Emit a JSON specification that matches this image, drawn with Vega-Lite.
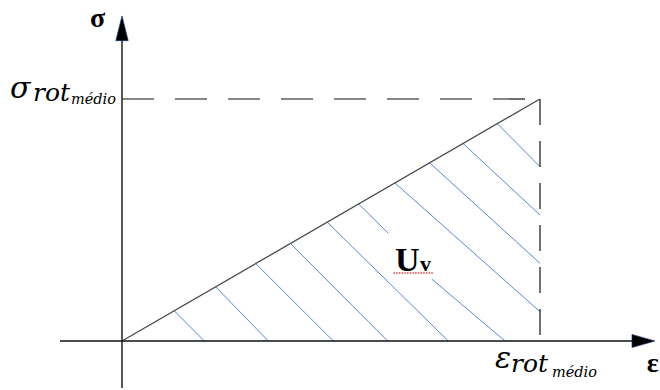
{
  "$schema": "https://vega.github.io/schema/vega-lite/v6.json",
  "width": 660,
  "height": 390,
  "autosize": {"type": "fit", "contains": "padding"},
  "padding": 0,
  "background": "white",
  "config": {"view": {"stroke": null}},
  "datasets": {
    "axes": [
      {"x": -0.1483, "y": 0, "x2": 1.2392, "y2": 0},
      {"x": 0, "y": -0.1942, "x2": 0, "y2": 1.2851}
    ],
    "arrow_right": [{"x": 1.2476, "y": 0}],
    "arrow_up": [{"x": 0, "y": 1.2921}],
    "diagonal": [{"x": 0, "y": 0, "x2": 1, "y2": 1}],
    "dash_h": [{"x": 0, "y": 1, "x2": 1, "y2": 1}],
    "dash_v": [{"x": 1, "y": 1, "x2": 1, "y2": 0}],
    "hatch": [
      {"x": 0.125, "y": 0.125, "x2": 0.1969, "y2": 0},
      {"x": 0.224, "y": 0.224, "x2": 0.35, "y2": 0},
      {"x": 0.32, "y": 0.32, "x2": 0.5055, "y2": 0},
      {"x": 0.403, "y": 0.403, "x2": 0.6356, "y2": 0},
      {"x": 0.491, "y": 0.491, "x2": 0.7806, "y2": 0},
      {"x": 0.566, "y": 0.566, "x2": 0.6371, "y2": 0.445},
      {"x": 0.7409, "y": 0.2562, "x2": 0.9163, "y2": 0},
      {"x": 0.653, "y": 0.653, "x2": 1, "y2": 0.1211},
      {"x": 0.736, "y": 0.736, "x2": 1, "y2": 0.3211},
      {"x": 0.816, "y": 0.816, "x2": 1, "y2": 0.5207},
      {"x": 0.898, "y": 0.898, "x2": 1, "y2": 0.7202}
    ],
    "squiggle": [{"x": 0.6495, "y": 0.281, "x2": 0.7452, "y2": 0.281}],
    "axis_names": [
      {"x": -0.0766, "y": 1.2975, "text": "σ"},
      {"x": 1.2553, "y": -0.1281, "text": "ε"}
    ],
    "math_main": [
      {"x": -0.2679, "y": 1.0041, "text": "σ"},
      {"x": 0.8923, "y": -0.1116, "text": "ε"}
    ],
    "math_sub": [
      {"x": -0.2129, "y": 0.9897, "text": "rot"},
      {"x": 0.9306, "y": -0.1281, "text": "rot"}
    ],
    "math_subsub": [
      {"x": -0.122, "y": 0.9773, "text": "médio"},
      {"x": 1.0287, "y": -0.1467, "text": "médio"}
    ],
    "area_big": [{"x": 0.6531, "y": 0.2893, "text": "U"}],
    "area_small": [{"x": 0.7129, "y": 0.2893, "text": "v"}]
  },
  "encoding": {
    "x": {"field": "x", "type": "quantitative", "axis": null, "scale": {"domain": [-0.291866, 1.287081], "nice": false, "zero": false}},
    "y": {"field": "y", "type": "quantitative", "axis": null, "scale": {"domain": [-0.202479, 1.409091], "nice": false, "zero": false}}
  },
  "layer": [
    {
      "data": {"name": "hatch"},
      "mark": {"type": "rule", "color": "#5b87d4", "strokeWidth": 1},
      "encoding": {"x2": {"field": "x2"}, "y2": {"field": "y2"}}
    },
    {
      "data": {"name": "dash_h"},
      "mark": {"type": "rule", "color": "#111111", "strokeWidth": 1.2, "strokeDash": [32, 21]},
      "encoding": {"x2": {"field": "x2"}, "y2": {"field": "y2"}}
    },
    {
      "data": {"name": "dash_v"},
      "mark": {"type": "rule", "color": "#111111", "strokeWidth": 1.2, "strokeDash": [26, 16]},
      "encoding": {"x2": {"field": "x2"}, "y2": {"field": "y2"}}
    },
    {
      "data": {"name": "diagonal"},
      "mark": {"type": "rule", "color": "#4a4a4a", "strokeWidth": 1.3},
      "encoding": {"x2": {"field": "x2"}, "y2": {"field": "y2"}}
    },
    {
      "data": {"name": "axes"},
      "mark": {"type": "rule", "color": "#111111", "strokeWidth": 1.4},
      "encoding": {"x2": {"field": "x2"}, "y2": {"field": "y2"}}
    },
    {
      "data": {"name": "arrow_right"},
      "mark": {"type": "point", "shape": "M1,0L-1,0.565L-1,-0.565Z", "size": 529, "filled": true, "fill": "#000000", "stroke": "#1f3a6e", "strokeWidth": 0.7, "opacity": 1}
    },
    {
      "data": {"name": "arrow_up"},
      "mark": {"type": "point", "shape": "M0,-1L0.5,1L-0.5,1Z", "size": 610, "filled": true, "fill": "#000000", "stroke": "#1f3a6e", "strokeWidth": 0.7, "opacity": 1}
    },
    {
      "data": {"name": "squiggle"},
      "mark": {"type": "rule", "color": "#e0403a", "strokeWidth": 1.6, "strokeDash": [1.5, 1.2]},
      "encoding": {"x2": {"field": "x2"}, "y2": {"field": "y2"}}
    },
    {
      "data": {"name": "axis_names"},
      "mark": {"type": "text", "font": "Liberation Serif", "fontWeight": "bold", "fontSize": 28, "align": "left", "baseline": "alphabetic", "color": "#000000"},
      "encoding": {"text": {"field": "text"}}
    },
    {
      "data": {"name": "math_main"},
      "mark": {"type": "text", "font": "DejaVu Serif", "fontStyle": "italic", "fontSize": 30, "align": "left", "baseline": "alphabetic", "color": "#000000"},
      "encoding": {"text": {"field": "text"}}
    },
    {
      "data": {"name": "math_sub"},
      "mark": {"type": "text", "font": "DejaVu Serif", "fontStyle": "italic", "fontSize": 25, "align": "left", "baseline": "alphabetic", "color": "#000000"},
      "encoding": {"text": {"field": "text"}}
    },
    {
      "data": {"name": "math_subsub"},
      "mark": {"type": "text", "font": "DejaVu Serif", "fontStyle": "italic", "fontSize": 14.5, "align": "left", "baseline": "alphabetic", "color": "#000000"},
      "encoding": {"text": {"field": "text"}}
    },
    {
      "data": {"name": "area_big"},
      "mark": {"type": "text", "font": "Liberation Serif", "fontWeight": "bold", "fontSize": 34, "align": "left", "baseline": "alphabetic", "color": "#000000"},
      "encoding": {"text": {"field": "text"}}
    },
    {
      "data": {"name": "area_small"},
      "mark": {"type": "text", "font": "Liberation Serif", "fontWeight": "bold", "fontSize": 22, "align": "left", "baseline": "alphabetic", "color": "#000000"},
      "encoding": {"text": {"field": "text"}}
    }
  ]
}
